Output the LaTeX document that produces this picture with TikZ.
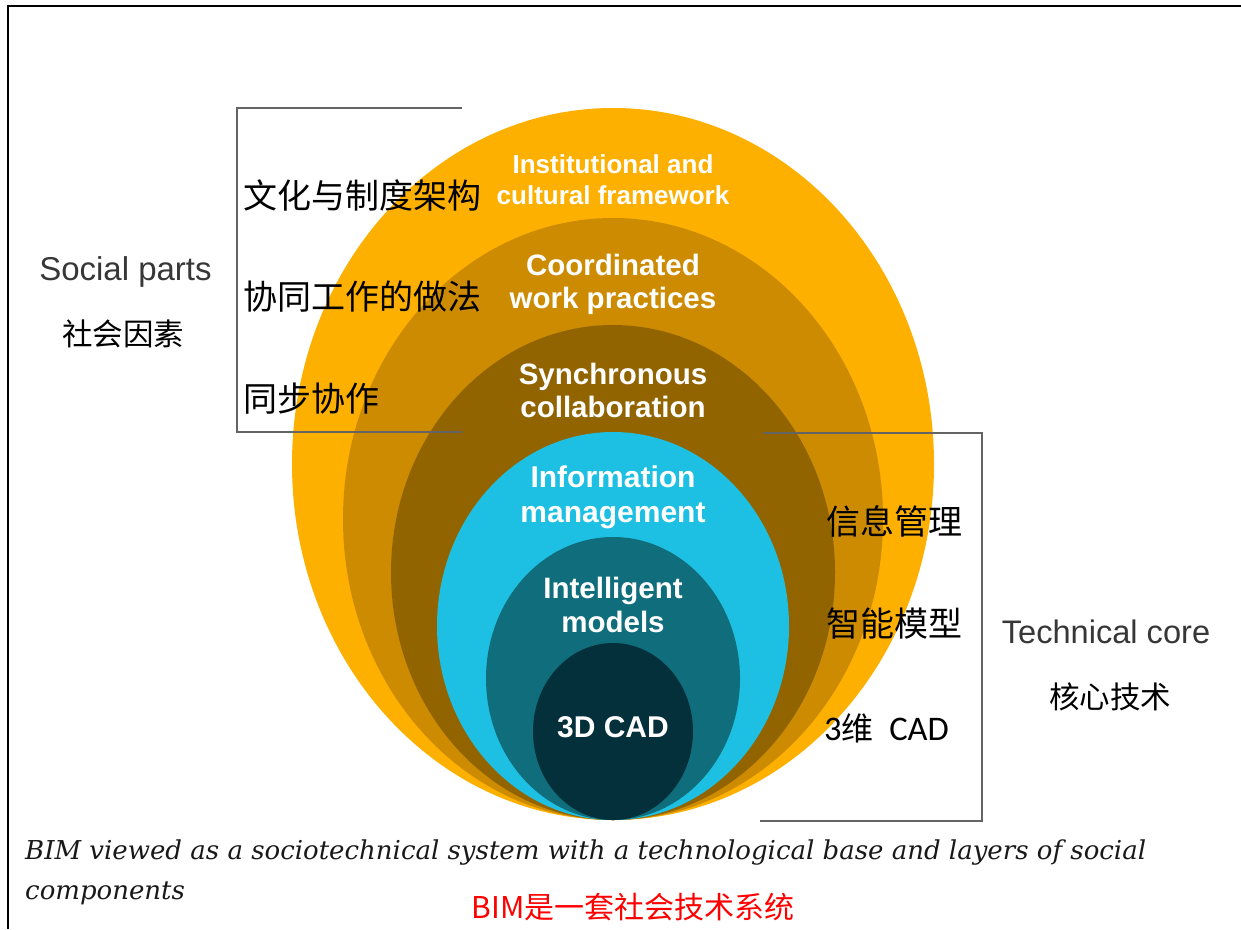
\documentclass[tikz,border=0pt]{standalone}
\usepackage{fontspec}
\setmainfont{Liberation Sans}
\newfontfamily\cjk{Noto Sans CJK SC}
\newfontfamily\calib{Carlito}
\newfontfamily\capserif{DejaVu Serif}
\usepackage{xcolor}
\usetikzlibrary{positioning}

\definecolor{ringA}{RGB}{253,176,0}
\definecolor{ringB}{RGB}{204,139,0}
\definecolor{ringC}{RGB}{146,100,0}
\definecolor{ringD}{RGB}{29,192,226}
\definecolor{ringE}{RGB}{16,110,124}
\definecolor{ringF}{RGB}{3,48,58}
\definecolor{bracketgray}{RGB}{100,100,100}
\definecolor{headgray}{RGB}{55,55,55}

\begin{document}
\begin{tikzpicture}[x=1pt, y=-1pt,
    ring/.style={text=white, align=center, inner sep=0pt},
    cnlabel/.style={anchor=west, inner sep=0pt, font={\cjk\fontsize{34}{40}\selectfont}},
    head/.style={text=headgray, inner sep=0pt, font={\fontsize{33}{40}\selectfont}},
    bracket/.style={draw=bracketgray, line width=2.4pt}]
    \useasboundingbox (0,0) rectangle (1241,929);
    \fill[white] (0,0) rectangle (1241,929);
    % frame edges
    \draw[black, line width=2.6pt] (8,929) -- (8,6) -- (1241,6);

    % nested layers, all touching at the bottom
    \fill[ringA] (613,464) ellipse [x radius=321pt, y radius=356pt];
    \fill[ringB] (613,519) ellipse [x radius=270pt, y radius=301pt];
    \fill[ringC] (613,572.5) ellipse [x radius=222pt, y radius=247.5pt];
    \fill[ringD] (613,626) ellipse [x radius=176pt, y radius=194pt];
    \fill[ringE] (613,678.5) ellipse [x radius=127pt, y radius=141.5pt];
    \fill[ringF] (613,731.5) ellipse [x radius=80pt, y radius=88.5pt];

    \node[ring, font={\bfseries\fontsize{26}{31}\selectfont}] (Ninst) at (613,180) {Institutional and\\cultural framework};
    \node[ring, font={\bfseries\fontsize{29.5}{33}\selectfont}] (Ncoord) at (613,284.5) {Coordinated\\work practices};
    \node[ring, font={\bfseries\fontsize{29.5}{33}\selectfont}] (Nsync) at (613,390.5) {Synchronous\\collaboration};
    \node[ring, font={\bfseries\fontsize{30}{35}\selectfont}] (Ninfo) at (613,497.5) {Information\\management};
    \node[ring, font={\bfseries\fontsize{29.5}{34}\selectfont}] (Nmodel) at (613,605) {Intelligent\\models};
    \node[ring, font={\bfseries\fontsize{30}{35}\selectfont}] (Ncad) at (613,727) {3D CAD};

    % social side
    \coordinate (S1) at (462,108);
    \coordinate (S2) at (237,108);
    \coordinate (S3) at (237,432);
    \coordinate (S4) at (462,432);
    \draw[bracket] (S1) -- (S2) -- (S3) -- (S4);
    \node[cnlabel] (Nwenhua) at (243,195) {文化与制度架构};
    \node[cnlabel] (Nxietong) at (243,297) {协同工作的做法};
    \node[cnlabel] (Ntongbu) at (243,399) {同步协作};
    \node[head] (Nsocial) at (125.5,272) {Social parts};
    \node[inner sep=0pt, font={\cjk\fontsize{30.5}{36}\selectfont}] (Nshehui) at (123,334) {社会因素};

    % technical side
    \coordinate (T1) at (763,433);
    \coordinate (T2) at (982,433);
    \coordinate (T3) at (982,821);
    \coordinate (T4) at (760,821);
    \draw[bracket] (T1) -- (T2) -- (T3) -- (T4);
    \node[cnlabel] (Nxinxi) at (826,521) {信息管理};
    \node[cnlabel] (Nzhineng) at (826,624) {智能模型};
    \node[anchor=west, inner sep=0pt, font={\calib\fontsize{34.5}{40}\selectfont}] (Nsanwei) at (824,728) {3{\cjk\fontsize{32}{40}\selectfont 维}\ \ CAD};
    \node[head, font={\fontsize{32.6}{40}\selectfont}] (Ntech) at (1106,632) {Technical core};
    \node[inner sep=0pt, font={\cjk\fontsize{30.5}{36}\selectfont}] (Nhexin) at (1110,697) {核心技术};

    % caption
    \node[anchor=west, inner sep=0pt, text=black!90, font={\capserif\itshape\fontsize{26}{30}\selectfont}] (Ncap1) at (25,852) {BIM viewed as a sociotechnical system with a technological base and layers of social};
    \node[anchor=west, inner sep=0pt, text=black!90, font={\capserif\itshape\fontsize{26}{30}\selectfont}] (Ncap2) at (25,893) {components};
    \node[inner sep=0pt, text=red, font={\cjk\fontsize{30}{36}\selectfont}] (Nbim) at (633,907) {BIM是一套社会技术系统};
\end{tikzpicture}
\end{document}
